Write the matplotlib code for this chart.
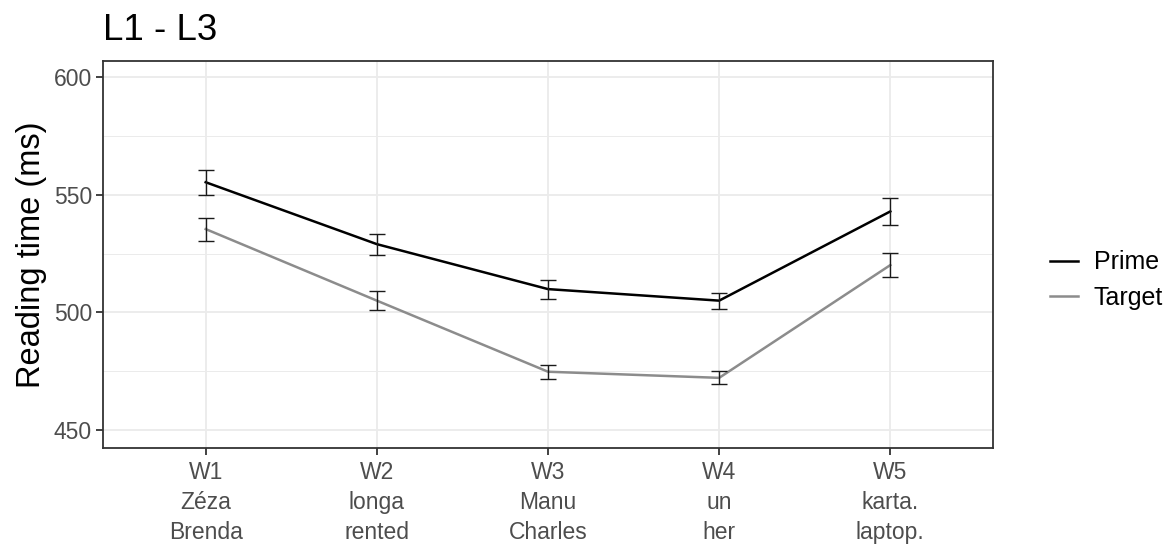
import numpy as np
import matplotlib.pyplot as plt
from matplotlib.ticker import MultipleLocator

plt.rcParams['font.family'] = ['Liberation Sans', 'DejaVu Sans']

words = ['W1\nZéza\nBrenda', 'W2\nlonga\nrented', 'W3\nManu\nCharles',
         'W4\nun\nher', 'W5\nkarta.\nlaptop.']
prime = [555.3, 529.0, 509.9, 505.0, 542.9]
prime_err = [5.3, 4.5, 4.0, 3.4, 5.6]
target = [535.4, 505.0, 474.8, 472.2, 520.1]
target_err = [4.9, 4.1, 3.0, 2.8, 5.2]

x = np.arange(1, len(words) + 1)

fig = plt.figure(figsize=(11.75, 5.47), dpi=100)
ax = fig.add_axes([103 / 1175, 1 - 448 / 547, 890 / 1175, 387 / 547])

ax.plot(x, prime, color='black', lw=1.8, label='Prime', zorder=3)
ax.plot(x, target, color='#8c8c8c', lw=1.8, label='Target', zorder=3)
ax.errorbar(x, prime, yerr=prime_err, fmt='none', ecolor='#1a1a1a',
            elinewidth=1.0, capsize=5.8, capthick=1.0, zorder=4)
ax.errorbar(x, target, yerr=target_err, fmt='none', ecolor='#1a1a1a',
            elinewidth=1.0, capsize=5.8, capthick=1.0, zorder=4)

ax.set_xlim(0.4, 5.6)
ax.set_ylim(442.4, 606.8)
ax.set_xticks(x)
ax.set_xticklabels(words, linespacing=1.38)
ax.yaxis.set_major_locator(MultipleLocator(50))
ax.yaxis.set_minor_locator(MultipleLocator(25))
ax.grid(which='major', color='#ebebeb', lw=1.3, zorder=0)
ax.grid(which='minor', axis='y', color='#ebebeb', lw=0.7, zorder=0)
ax.set_axisbelow(True)
for s in ax.spines.values():
    s.set_color('#333333')
    s.set_linewidth(1.3)
ax.tick_params(which='major', length=5, width=1.3, color='#333333',
               labelsize=16.5, labelcolor='#4d4d4d', pad=3)
ax.tick_params(axis='x', pad=4.5)
ax.tick_params(which='minor', length=0)

ax.set_ylabel('Reading time (ms)', fontsize=23.5, labelpad=5)
fig.text(103 / 1175, 1 - 30 / 547, 'L1 - L3', fontsize=26.5, va='center', ha='left')

handles, labels = ax.get_legend_handles_labels()
fig.legend(handles, labels, loc='center left',
           bbox_to_anchor=(1040 / 1175, 1 - 280 / 547), frameon=False,
           fontsize=18, handlelength=1.1, handletextpad=0.65, labelspacing=0.45,
           borderaxespad=0)

fig.savefig('out.png', dpi=100)
